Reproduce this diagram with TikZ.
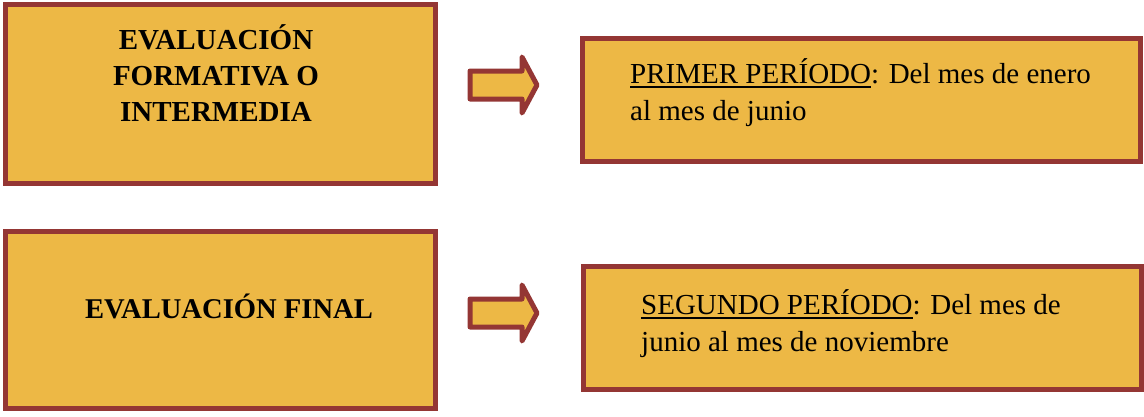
\documentclass[tikz,border=0pt]{standalone}
\usepackage{fontspec}
\setmainfont{Liberation Serif}
\usepackage{tikz}
\usetikzlibrary{positioning, calc}
\definecolor{boxfill}{HTML}{EDB845}
\definecolor{boxline}{HTML}{943634}
\newcommand{\periodline}[1]{\setbox0\hbox{#1}\rlap{\rule[-4.5pt]{\wd0}{1.8pt}}\box0}
\tikzset{
    stagebox/.style={draw=boxline, fill=boxfill, line width=5pt, inner sep=0pt},
    blockarrow/.style={draw=boxline, fill=boxfill, line width=5pt, line join=round},
    plaintext/.style={font=\fontsize{29}{37}\selectfont, inner sep=0pt, anchor=base west, align=left},
    boldtext/.style={font=\fontsize{29}{36}\selectfont\bfseries, inner sep=0pt, anchor=base, align=center}
}

\begin{document}
\begin{tikzpicture}[x=1pt, y=-1pt]
    \useasboundingbox (0,0) rectangle (1144,416);

    % draw boxes
    \foreach \name/\xa/\ya/\xb/\yb in {
        evalA/5.5/4.5/435.5/183,
        periodA/582/38/1140/161,
        evalB/5.5/231/435.5/408.5,
        periodB/583/266/1141/389}
    {
        \node[stagebox, minimum width={(\xb-\xa)*1pt}, minimum height={(\yb-\ya)*1pt}]
            (\name) at ({(\xa+\xb)/2}, {(\ya+\yb)/2}) {};
    }

    % draw arrows
    \foreach \yc in {85, 313}
    {
        \draw[blockarrow] (470,{\yc-14}) -- (522,{\yc-14}) -- (522,{\yc-28}) -- (537,\yc)
            -- (522,{\yc+28}) -- (522,{\yc+14}) -- (470,{\yc+14}) -- cycle;
    }

    % texts (anchored at the baseline of the last line)
    \node[boldtext] (evalAtext) at (216,121) {EVALUACIÓN\\ FORMATIVA O\\ INTERMEDIA};
    \node[boldtext, font=\fontsize{28.6}{34}\selectfont\bfseries] (evalBtext) at (229,318) {EVALUACIÓN FINAL};
    \node[plaintext] (periodAtext) at (630,120) {\periodline{PRIMER PERÍODO}: Del mes de enero\\ al mes de junio};
    \node[plaintext] (periodBtext) at (641,351) {\periodline{SEGUNDO PERÍODO}: Del mes de\\ junio al mes de noviembre};
\end{tikzpicture}
\end{document}
